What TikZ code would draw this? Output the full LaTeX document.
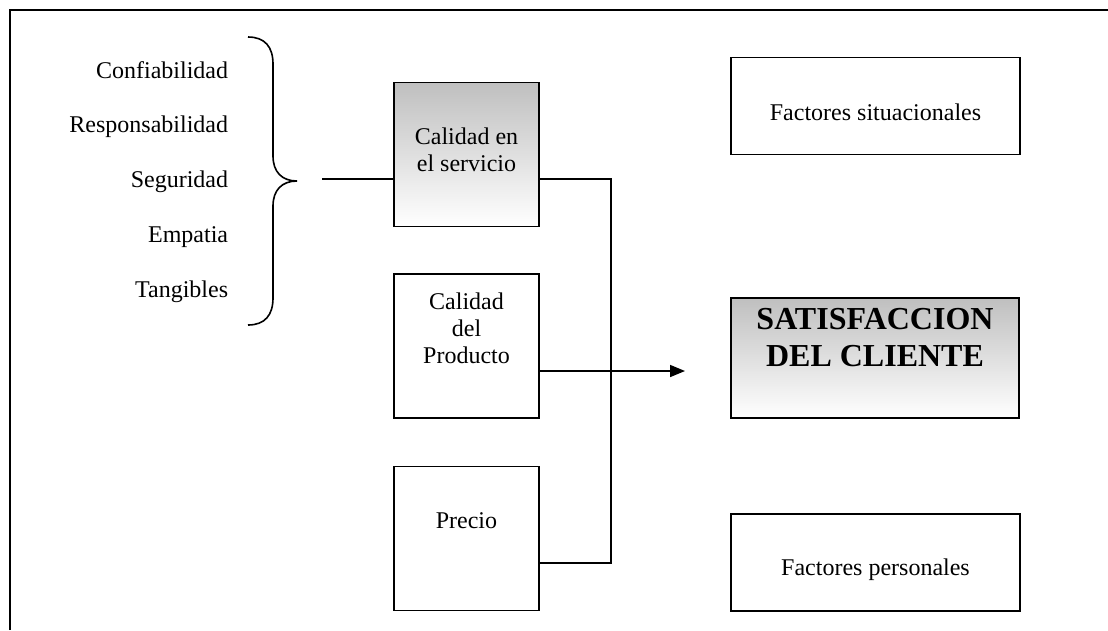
\documentclass[tikz,border=0pt]{standalone}
\usepackage{fontspec}
\setmainfont{Liberation Serif}
\usetikzlibrary{arrows.meta}
\begin{document}
\begin{tikzpicture}[x=1pt,y=-1pt,
  line width=1.8pt,
  txt/.style={font=\fontsize{24}{27}\selectfont, align=center, inner sep=0pt},
  lbl/.style={font=\fontsize{24}{27}\selectfont, anchor=east, inner sep=0pt},
  sqbox/.style={draw, minimum width=145pt, minimum height=144pt, inner sep=0pt},
  widebox/.style={draw, minimum width=289pt, minimum height=97pt, inner sep=0pt},
  shaded/.style={top color=gray!50, bottom color=white},
  link/.style={line width=1.6pt}]
\useasboundingbox (0,0) rectangle (1108,630);
% open frame
\draw[line width=2pt] (10,630) -- (10,10) -- (1108,10);

% attributes of service quality
\node[lbl] (c1) at (229,70)  {Confiabilidad};
\node[lbl] (c2) at (229,127) {Responsabilidad};
\node[lbl] (c3) at (229,182) {Seguridad};
\node[lbl] (c4) at (229,237) {Empatia};
\node[lbl] (c5) at (229,292) {Tangibles};

% curly brace grouping the attributes
\draw[link] (248,37) .. controls (265,37) and (273,47) .. (273,64) -- (273,156)
  .. controls (273,172) and (282,181) .. (297,181)
  .. controls (282,181) and (273,190) .. (273,206) -- (273,298)
  .. controls (273,315) and (265,325) .. (248,325);
\coordinate (brace) at (322,179);

% determinant boxes
\node[sqbox, shaded] (serv) at (466.5,154.5) {};
\node[txt] (servt) at (466.5,150) {Calidad en\\el servicio};
\node[sqbox] (prod) at (466.5,346) {};
\node[txt] (prodt) at (466.5,328) {Calidad\\del\\Producto};
\node[sqbox] (prec) at (466.5,538.5) {};
\node[txt] (prect) at (466.5,521) {Precio};

% right column
\node[widebox] (sit) at (875.5,106) {};
\node[txt] (sitt) at (875.5,112) {Factores situacionales};
\node[draw, shaded, minimum width=288pt, minimum height=120pt, inner sep=0pt] (sat) at (875,358) {};
\node[font=\fontsize{32}{37}\selectfont\bfseries, align=center, inner sep=0pt] (satt) at (875,338) {SATISFACCION\\DEL CLIENTE};
\node[widebox] (per) at (875.5,562.5) {};
\node[txt] (pert) at (875.5,570) {Factores personales};

% connectors
\coordinate (bustop) at (611,179);
\coordinate (busbot) at (611,563);
\coordinate (arrowend) at (685,371);
\draw[link] (brace) -- (serv.west |- brace);
\draw[link] (serv.east |- bustop) -- (bustop) -- (busbot) -- (prec.east |- busbot);
\draw[link, -{Triangle[length=15pt, width=12pt]}] (prod.east |- arrowend) -- (arrowend);
\end{tikzpicture}
\end{document}
